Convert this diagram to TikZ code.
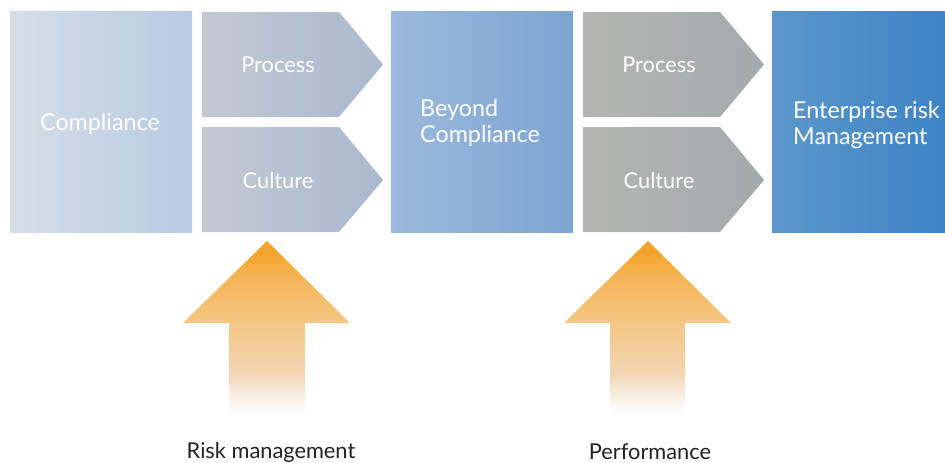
\documentclass[tikz,border=0pt]{standalone}
\usepackage{fontspec}
\setmainfont{Lato}
\usetikzlibrary{calc}
\definecolor{cmpL}{HTML}{D6DDE7}
\definecolor{cmpR}{HTML}{B7CBE3}
\definecolor{chvL}{HTML}{C3C9D3}
\definecolor{chvR}{HTML}{AAB8CE}
\definecolor{bynL}{HTML}{9BB9DD}
\definecolor{bynR}{HTML}{7CA4D1}
\definecolor{gryL}{HTML}{B4B5B1}
\definecolor{gryR}{HTML}{A3AAAD}
\definecolor{entL}{HTML}{5B97CB}
\definecolor{entR}{HTML}{3E84C5}
\definecolor{oraA}{HTML}{F3A42C}
\definecolor{oraB}{HTML}{F5B65A}
\definecolor{oraC}{HTML}{F4C784}
\definecolor{oraD}{HTML}{F2D5B4}
\definecolor{oraE}{HTML}{F8EDE2}
\definecolor{labelgray}{HTML}{222222}
% vertical fade for the upward arrows (path spans 25bp..75bp)
\pgfdeclareverticalshading{arrowfade}{100bp}{%
  color(0bp)=(white); color(25bp)=(white); color(27bp)=(white);
  color(32bp)=(oraE); color(38bp)=(oraD); color(52bp)=(oraC);
  color(64bp)=(oraB); color(72bp)=(oraA); color(75bp)=(oraA); color(100bp)=(oraA)}
\tikzset{
  x=1pt, y=-1pt,
  boxtext/.style={text=white, font=\fontsize{23.3}{25.5}\selectfont, align=left, inner sep=0pt},
  steptext/.style={text=white, font=\fontsize{21.8}{25}\selectfont, inner sep=0pt},
  caption/.style={text=labelgray, font=\fontsize{21.8}{25}\selectfont, inner sep=0pt},
  upfade/.style={shading=arrowfade}
}
\begin{document}
\begin{tikzpicture}
\useasboundingbox (0,0) rectangle (945,463);

% stage blocks
\shade[left color=cmpL, right color=cmpR] (10,11) rectangle (192,232);
\shade[left color=bynL, right color=bynR] (391,11) rectangle (573,232);
\shade[left color=entL, right color=entR] (772,11) rectangle (945,232);

% chevrons after Compliance
\shade[left color=chvL, right color=chvR] (202,12) -- (339,12) -- (383,64.5) -- (339,117) -- (202,117) -- cycle;
\shade[left color=chvL, right color=chvR] (202,127) -- (339,127) -- (383,180) -- (339,232) -- (202,232) -- cycle;
% chevrons after Beyond Compliance
\shade[left color=gryL, right color=gryR] (583,12) -- (720,12) -- (764,64.5) -- (720,117) -- (583,117) -- cycle;
\shade[left color=gryL, right color=gryR] (583,127) -- (720,127) -- (764,180) -- (720,232) -- (583,232) -- cycle;

% texts
\node[boxtext] (comp) at (100,124) {Compliance};
\node[steptext] (p1) at (278,65) {Process};
\node[steptext] (c1) at (278,180.5) {Culture};
\node[boxtext, anchor=west] (beyond) at (420,123) {Beyond\\Compliance};
\node[steptext] (p2) at (659,65) {Process};
\node[steptext] (c2) at (659,180.5) {Culture};
\node[boxtext, anchor=west] (erm) at (793,125) {Enterprise risk\\Management};

% upward arrows
\shade[upfade] (267,241) -- (350,323) -- (305,323) -- (305,420) -- (229,420) -- (229,323) -- (183,323) -- cycle;
\shade[upfade] (648,241) -- (731,323) -- (685,323) -- (685,420) -- (610,420) -- (610,323) -- (564,323) -- cycle;

\node[caption] (rm) at (271,452) {Risk management};
\node[caption] (pf) at (650,452) {Performance};
\end{tikzpicture}
\end{document}
